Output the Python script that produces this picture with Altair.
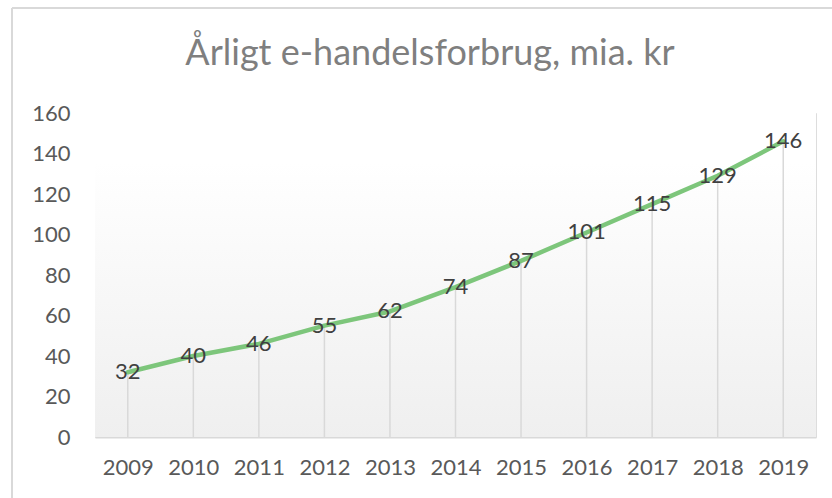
import altair as alt
import pandas as pd

years = [2009, 2010, 2011, 2012, 2013, 2014, 2015, 2016, 2017, 2018, 2019]
values = [32, 40, 46, 55, 62, 74, 87, 101, 115, 129, 146]
y_ticks = [0, 20, 40, 60, 80, 100, 120, 140, 160]
title_text = "Årligt e-handelsforbrug, mia. kr"

df = pd.DataFrame({"year": years, "value": values})
title_df = pd.DataFrame({"t": [title_text]})

W, H = 721, 324
FONT = "Lato"

x_enc = alt.X("year:Q", scale=alt.Scale(domain=[2008.5, 2019.5], nice=False, zero=False),
              axis=alt.Axis(values=years, format="d", title=None, ticks=False, grid=False,
                            domainColor="#d9d9d9", domainWidth=2, labelFontSize=22,
                            labelFont=FONT, labelColor="#595959", labelPadding=20,
                            labelFlush=False))
y_enc = alt.Y("value:Q", scale=alt.Scale(domain=[0, 160], nice=False),
              axis=alt.Axis(values=y_ticks, title=None, ticks=False, grid=False, domain=False,
                            labelFontSize=22, labelFont=FONT, labelColor="#595959",
                            labelPadding=25))

bg = alt.Chart(df).mark_rect(
    color=alt.LinearGradient(
        gradient="linear", x1=0, y1=0, x2=0, y2=1,
        stops=[alt.GradientStop(color="#ffffff", offset=0),
               alt.GradientStop(color="#ffffff", offset=0.15),
               alt.GradientStop(color="#efefef", offset=1)])
).encode(x=alt.value(0), x2=alt.value(W), y=alt.value(0), y2=alt.value(H))

frame_left = alt.Chart(df).mark_rule(color="#d9d9d9", strokeWidth=1.5).encode(
    x=alt.value(-83), y=alt.value(-105), y2=alt.value(H + 70))
frame_top = alt.Chart(df).mark_rule(color="#d9d9d9", strokeWidth=1.5).encode(
    x=alt.value(-83), x2=alt.value(W + 30), y=alt.value(-105))

title = alt.Chart(title_df).mark_text(fontSize=36, font=FONT, color="#7f7f7f",
                                      align="center", baseline="alphabetic").encode(
    x=alt.value(335), y=alt.value(-48), text="t:N")

drops = alt.Chart(df).mark_rule(color="#d9d9d9", strokeWidth=1.5).encode(
    x=x_enc, y=y_enc, y2=alt.datum(0))

line = alt.Chart(df).mark_line(color="#7dc67b", strokeWidth=4.5, strokeCap="round",
                               strokeJoin="round").encode(x=x_enc, y=y_enc)

labels = alt.Chart(df).mark_text(fontSize=22, font=FONT, color="#404040",
                                 align="center", baseline="middle").encode(
    x=x_enc, y=y_enc, text=alt.Text("value:Q"))

chart = alt.layer(bg, frame_left, frame_top, title, drops, line, labels).properties(
    width=W, height=H,
    padding={"left": 95, "top": 113, "right": 16, "bottom": 62},
    autosize=alt.AutoSizeParams(type="none"),
).configure_view(stroke=None).configure(background="#ffffff")

chart.save("out.html", embed_options={"renderer": "svg", "actions": False})
